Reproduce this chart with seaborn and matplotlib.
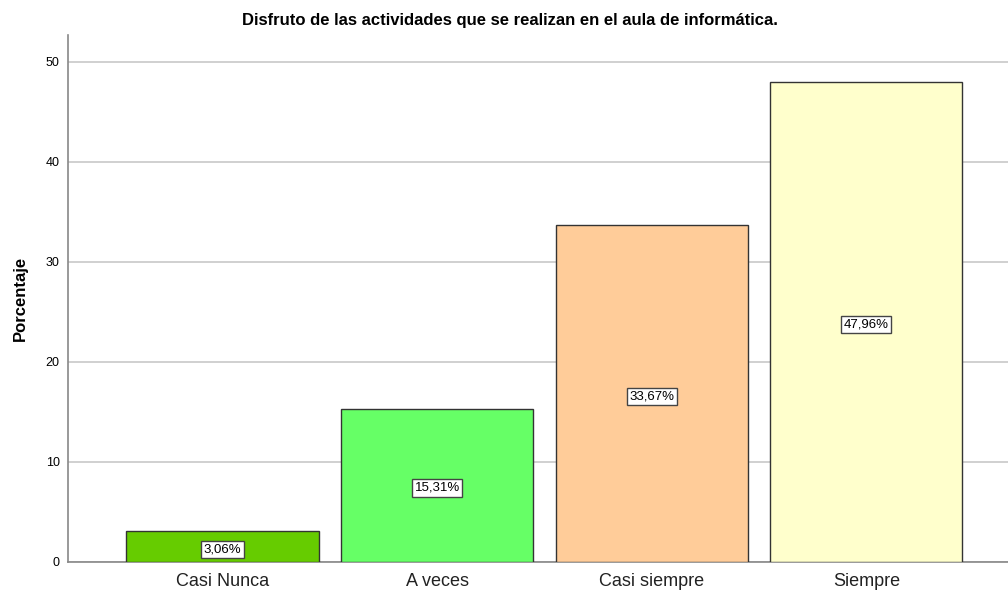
import matplotlib
matplotlib.use("Agg")
import matplotlib.pyplot as plt
import seaborn as sns
import pandas as pd

categories = ["Casi Nunca", "A veces", "Casi siempre", "Siempre"]
values = [3.06, 15.31, 33.67, 47.96]
labels = ["3,06%", "15,31%", "33,67%", "47,96%"]
colors = ["#66CC00", "#66FF66", "#FFCC99", "#FFFFCC"]
yticks = [0, 10, 20, 30, 40, 50]

sns.set_theme(style="white")
plt.rcParams['font.family'] = ['Liberation Sans', 'DejaVu Sans']
plt.rcParams['text.color'] = 'black'
plt.rcParams['axes.labelcolor'] = 'black'

fig = plt.figure(figsize=(10.08, 5.93), dpi=100)
ax = fig.add_axes([68/1008, 31/593, 1 - 68/1008, (562-35)/593])

df = pd.DataFrame({"cat": categories, "val": values})
sns.barplot(data=df, x="cat", y="val", hue="cat", palette=colors, order=categories,
            hue_order=categories, legend=False, width=0.895, edgecolor="#333333",
            linewidth=1.0, saturation=1, ax=ax, zorder=3)

for i, (v, lab) in enumerate(zip(values, labels)):
    ax.text(i, v / 2 - 0.25, lab, ha="center", va="center", fontsize=9.5, color="black", zorder=5,
            bbox=dict(boxstyle="square,pad=0.2", facecolor="white", edgecolor="#444444", linewidth=1))

ax.set_xlim(-0.72, 3.66)
ax.set_ylim(0, 52.7)
ax.set_yticks(yticks)
ax.set_yticklabels([str(t) for t in yticks], fontsize=9)
ax.tick_params(axis="x", labelsize=13, length=0, pad=8, colors="#222222")
ax.tick_params(axis="y", length=0, pad=6, colors="black")
ax.yaxis.grid(True, color="#C8C8C8", linewidth=1.2, zorder=0)
ax.set_axisbelow(True)
ax.set_xlabel("")
ax.set_ylabel("Porcentaje", fontsize=12, fontweight="bold", labelpad=13)
for s in ["top", "right"]:
    ax.spines[s].set_visible(False)
for s in ["left", "bottom"]:
    ax.spines[s].set_color("#888888")
    ax.spines[s].set_linewidth(1.2)

fig.text(510/1008, 1 - 20/593, "Disfruto de las actividades que se realizan en el aula de informática.",
         ha="center", va="center", fontsize=12, fontweight="bold", color="black")

fig.savefig("out.png", dpi=100)
